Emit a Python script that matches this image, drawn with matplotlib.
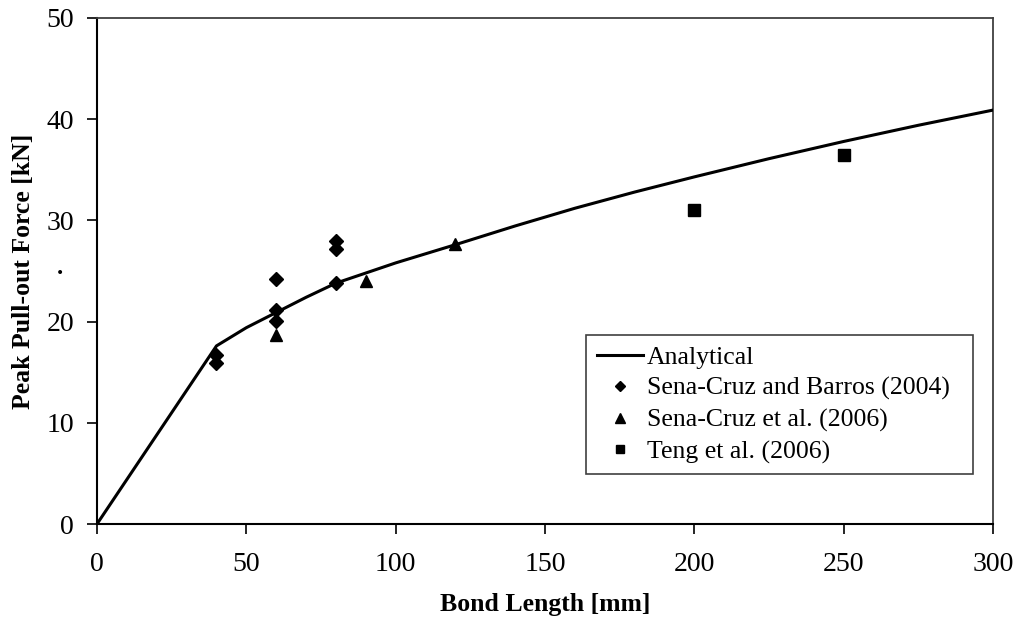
import numpy as np
import matplotlib.pyplot as plt

# analytical curve
ana_x = [0, 40, 50, 60, 70, 80, 90, 100, 120, 140, 160, 180, 200, 225, 250, 275, 300]
ana_y = [0, 17.6, 19.4, 20.9, 22.4, 23.8, 24.8, 25.8, 27.6, 29.45, 31.2, 32.8, 34.3, 36.1, 37.8, 39.4, 40.9]

# Sena-Cruz and Barros (2004)
scb_x = [40, 40, 60, 60, 60, 80, 80, 80]
scb_y = [16.7, 15.9, 24.2, 21.1, 20.1, 28.0, 27.2, 23.8]

# Sena-Cruz et al. (2006)
sc_x = [60, 90, 120]
sc_y = [18.7, 24.0, 27.7]

# Teng et al. (2006)
teng_x = [200, 250]
teng_y = [31.0, 36.5]

plt.rcParams['font.family'] = ['Liberation Serif', 'DejaVu Serif']

fig = plt.figure(figsize=(10.2, 6.24), dpi=100)
ax = fig.add_axes([97 / 1020, 100 / 624, 896 / 1020, 506 / 624])

ax.plot(ana_x, ana_y, color='black', lw=2.2, label='Analytical', zorder=3)
ax.plot(scb_x, scb_y, ls='none', marker='D', ms=7, color='black',
        label='Sena-Cruz and Barros (2004)', zorder=4)
ax.plot(sc_x, sc_y, ls='none', marker='^', ms=9, color='black',
        label='Sena-Cruz et al. (2006)', zorder=4)
ax.plot(teng_x, teng_y, ls='none', marker='s', ms=8, color='black',
        label='Teng et al. (2006)', zorder=4)

ax.set_xlim(0, 300)
ax.set_ylim(0, 50)
ax.set_xticks(np.arange(0, 301, 50))
ax.set_yticks(np.arange(0, 51, 10))
ax.tick_params(direction='out', length=7.5, width=1.2, labelsize=20)
ax.tick_params(axis='x', pad=13)
ax.tick_params(axis='y', pad=9)

for s in ['left', 'bottom']:
    ax.spines[s].set_linewidth(1.5)
    ax.spines[s].set_color('black')
for s in ['top', 'right']:
    ax.spines[s].set_linewidth(1.3)
    ax.spines[s].set_color('#404040')

ax.set_xlabel('Bond Length [mm]', fontsize=18.5, fontweight='bold', va='center')
ax.xaxis.set_label_coords(0.5, (524 - 604) / 506)
ax.set_ylabel('Peak Pull-out Force [kN]', fontsize=18.5, fontweight='bold', va='center')
ax.yaxis.set_label_coords((24 - 97) / 896, 0.5)
fig.text(60 / 1020, 1 - 268 / 624, '.', fontsize=18, fontweight='bold', ha='center', va='center')

leg = ax.legend(loc='upper left',
                bbox_to_anchor=(586 / 1020, 1 - 475 / 624, 387 / 1020, 140 / 624),
                bbox_transform=fig.transFigure, mode='expand', fontsize=18.5,
                frameon=True, fancybox=False, borderpad=0.42, labelspacing=0.32,
                handlelength=1.8, handletextpad=0.15, borderaxespad=0,
                markerscale=0.75)
leg.get_frame().set_edgecolor('#404040')
leg.get_frame().set_linewidth(1.2)
leg.get_frame().set_alpha(1)

fig.savefig('out.png', dpi=100)
